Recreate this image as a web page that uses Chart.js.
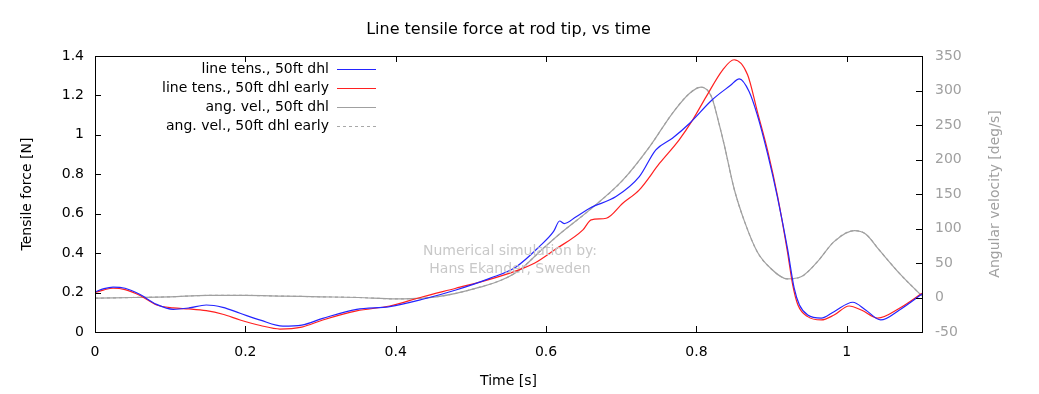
<!DOCTYPE html>
<html>
<head>
<meta charset="utf-8">
<script src="https://cdn.jsdelivr.net/npm/chart.js@4.4.0/dist/chart.umd.min.js"></script>
<style>
  html, body { margin: 0; padding: 0; background: #fff; }
  #wrap { width: 1039px; height: 394px; }
</style>
</head>
<body>
<div id="wrap"><canvas id="c" width="1039" height="394"></canvas></div>
<script>
// tick values
const xTicks = [0, 0.2, 0.4, 0.6, 0.8, 1];
const yTicks = [0, 0.2, 0.4, 0.6, 0.8, 1, 1.2, 1.4];
const y2Ticks = [-50, 0, 50, 100, 150, 200, 250, 300, 350];

// line tens., 50ft dhl  [N]
const tBlue = [0, 0.012, 0.024, 0.04, 0.06, 0.082, 0.104, 0.125, 0.148, 0.17, 0.193, 0.22, 0.25, 0.275,
  0.303, 0.348, 0.392, 0.436, 0.48, 0.525, 0.56, 0.591, 0.61, 0.618, 0.624, 0.64, 0.658, 0.693, 0.724,
  0.746, 0.768, 0.791, 0.821, 0.845, 0.857, 0.87, 0.881, 0.895, 0.908, 0.921, 0.93, 0.937,
  0.948, 0.966, 0.983, 1.008, 1.025, 1.045, 1.07, 1.1];
const fBlue = [0.203, 0.22, 0.228, 0.222, 0.19, 0.14, 0.115, 0.122, 0.137, 0.125, 0.095, 0.06, 0.03, 0.035,
  0.069, 0.115, 0.129, 0.166, 0.213, 0.272, 0.33, 0.433, 0.51, 0.563, 0.55, 0.585, 0.628, 0.687, 0.788,
  0.924, 0.983, 1.059, 1.178, 1.25, 1.284, 1.22, 1.1, 0.898, 0.679, 0.425, 0.222, 0.137,
  0.086, 0.07, 0.103, 0.151, 0.112, 0.061, 0.112, 0.193];

// line tens., 50ft dhl early  [N]
const tRed = [0, 0.012, 0.024, 0.04, 0.06, 0.082, 0.104, 0.125, 0.148, 0.17, 0.193, 0.22, 0.246, 0.275,
  0.303, 0.348, 0.392, 0.436, 0.48, 0.525, 0.56, 0.585, 0.611, 0.649, 0.66, 0.68, 0.702, 0.724, 0.751,
  0.777, 0.795, 0.813, 0.835, 0.85, 0.868, 0.881, 0.895, 0.908, 0.921, 0.928, 0.935,
  0.948, 0.966, 0.983, 1.003, 1.02, 1.041, 1.07, 1.1];
const fRed = [0.2, 0.214, 0.222, 0.215, 0.185, 0.137, 0.122, 0.117, 0.108, 0.09, 0.061, 0.033, 0.015, 0.025,
  0.061, 0.107, 0.132, 0.179, 0.222, 0.267, 0.31, 0.35, 0.416, 0.518, 0.569, 0.577, 0.653, 0.721, 0.856,
  0.975, 1.076, 1.194, 1.33, 1.381, 1.305, 1.118, 0.915, 0.687, 0.408, 0.239, 0.137,
  0.078, 0.061, 0.086, 0.132, 0.11, 0.07, 0.12, 0.196];

// ang. vel., 50ft dhl  [deg/s]
const tGray = [0, 0.05, 0.1, 0.15, 0.2, 0.25, 0.3, 0.35, 0.4, 0.436, 0.454, 0.48, 0.512, 0.54, 0.565,
  0.591, 0.618, 0.658, 0.702, 0.738, 0.768, 0.791, 0.806, 0.82, 0.83, 0.837, 0.85, 0.864, 0.881, 0.899,
  0.921, 0.939, 0.961, 0.983, 1.01, 1.025, 1.043, 1.07, 1.1];
const wGray = [-1, 0, 1, 3, 3, 2, 1, 0, -2, -1, 1, 6, 15, 25, 40,
  66, 92, 127, 170, 219, 267, 296, 305, 291, 252, 221, 158, 110, 66, 42,
  27, 30, 52, 81, 97, 92, 69, 35, 2];

// ang. vel., 50ft dhl early  [deg/s]
const tGrayEarly = [0, 0.05, 0.1, 0.15, 0.2, 0.25, 0.3, 0.35, 0.4, 0.436, 0.454, 0.48, 0.512, 0.54, 0.565,
  0.591, 0.618, 0.658, 0.702, 0.738, 0.768, 0.791, 0.806, 0.82, 0.83, 0.837, 0.85, 0.864, 0.881, 0.899,
  0.921, 0.939, 0.961, 0.983, 1.01, 1.025, 1.043, 1.07, 1.1];
const wGrayEarly = [-1, 0, 1, 3, 3, 2, 1, 0, -2, -1, 1, 6, 15, 25, 40,
  66, 92, 127, 170, 219, 267, 296, 305, 291, 252, 221, 158, 110, 66, 42,
  27, 30, 52, 81, 97, 92, 69, 35, 2];

const FONT = "'DejaVu Sans', sans-serif";
const pts = (ts, vs) => ts.map((t, i) => ({ x: t, y: vs[i] }));

const series = [
    { label: 'line tens., 50ft dhl', data: pts(tBlue, fBlue), color: '#2424ff', axis: 'y', dash: [] },
    { label: 'line tens., 50ft dhl early', data: pts(tRed, fRed), color: '#ff2020', axis: 'y', dash: [] },
    { label: 'ang. vel., 50ft dhl', data: pts(tGray, wGray), color: '#a0a0a0', axis: 'y2', dash: [] },
    { label: 'ang. vel., 50ft dhl early', data: pts(tGrayEarly, wGrayEarly), color: '#a8a8a8', axis: 'y2', dash: [3, 3] }
];

// frame, inward ticks, titles, legend and watermark (gnuplot look)
const decor = {
    id: 'decor',
    afterDraw(chart) {
        const { ctx, chartArea: a, scales } = chart;
        ctx.save();
        ctx.strokeStyle = '#000';
        ctx.lineWidth = 1;
        ctx.setLineDash([]);
        ctx.strokeRect(Math.round(a.left) + 0.5, Math.round(a.top) + 0.5,
            Math.round(a.right - a.left), Math.round(a.bottom - a.top));
        ctx.beginPath();
        xTicks.forEach(v => {
            const px = Math.round(scales.x.getPixelForValue(v)) + 0.5;
            ctx.moveTo(px, a.bottom); ctx.lineTo(px, a.bottom - 6);
            ctx.moveTo(px, a.top); ctx.lineTo(px, a.top + 6);
        });
        yTicks.forEach(v => {
            const py = Math.round(scales.y.getPixelForValue(v)) + 0.5;
            ctx.moveTo(a.left, py); ctx.lineTo(a.left + 6, py);
        });
        y2Ticks.forEach(v => {
            const py = Math.round(scales.y2.getPixelForValue(v)) + 0.5;
            ctx.moveTo(a.right, py); ctx.lineTo(a.right - 6, py);
        });
        ctx.stroke();

        // title
        ctx.fillStyle = '#000';
        ctx.font = '16px ' + FONT;
        ctx.textAlign = 'center';
        ctx.textBaseline = 'middle';
        ctx.fillText('Line tensile force at rod tip, vs time', (a.left + a.right) / 2, 30);
        ctx.font = '14px ' + FONT;
        ctx.fillText('Time [s]', (a.left + a.right) / 2, 381);

        const midY = (a.top + a.bottom) / 2;
        ctx.save();
        ctx.translate(27, midY);
        ctx.rotate(-Math.PI / 2);
        ctx.fillText('Tensile force [N]', 0, 0);
        ctx.restore();
        ctx.save();
        ctx.fillStyle = '#a0a0a0';
        ctx.translate(995, midY);
        ctx.rotate(-Math.PI / 2);
        ctx.fillText('Angular velocity [deg/s]', 0, 0);
        ctx.restore();

        // watermark
        ctx.fillStyle = '#c8c8c8';
        ctx.fillText('Numerical simulation by:', 510, 251);
        ctx.fillText('Hans Ekander, Sweden', 510, 269);

        // legend
        ctx.textAlign = 'right';
        series.forEach((s, i) => {
            const y = 69 + i * 19;
            ctx.fillStyle = '#000';
            ctx.fillText(s.label, 329, y);
            ctx.strokeStyle = s.color;
            ctx.setLineDash(s.dash);
            ctx.beginPath();
            ctx.moveTo(337, y + 0.5);
            ctx.lineTo(376, y + 0.5);
            ctx.stroke();
        });
        ctx.restore();
    }
};

const tickFont = { family: FONT, size: 14 };

new Chart(document.getElementById('c'), {
    type: 'line',
    data: {
        datasets: series.map(s => ({
            label: s.label,
            data: s.data,
            yAxisID: s.axis,
            borderColor: s.color,
            borderDash: s.dash,
            borderWidth: 1.2,
            pointRadius: 0,
            fill: false,
            cubicInterpolationMode: 'monotone'
        }))
    },
    options: {
        responsive: false,
        animation: false,
        layout: { padding: { top: 56, left: 0, right: 0, bottom: 0 } },
        plugins: { legend: { display: false }, title: { display: false }, tooltip: { enabled: false } },
        scales: {
            x: {
                type: 'linear', min: 0, max: 1.1,
                grid: { display: false, drawTicks: false },
                border: { display: false },
                afterBuildTicks: s => { s.ticks = xTicks.map(v => ({ value: v })); },
                afterFit: s => { s.height = 62; },
                ticks: { padding: 12, color: '#000', font: tickFont, maxRotation: 0, callback: v => String(v) }
            },
            y: {
                position: 'left', min: 0, max: 1.4,
                grid: { display: false, drawTicks: false },
                border: { display: false },
                afterBuildTicks: s => { s.ticks = yTicks.map(v => ({ value: v })); },
                afterFit: s => { s.width = 95; },
                ticks: { padding: 11, color: '#000', font: tickFont, callback: v => String(v) }
            },
            y2: {
                position: 'right', min: -50, max: 350,
                grid: { display: false, drawTicks: false },
                border: { display: false },
                afterBuildTicks: s => { s.ticks = y2Ticks.map(v => ({ value: v })); },
                afterFit: s => { s.width = 117; },
                ticks: { padding: 13, color: '#a0a0a0', font: tickFont, callback: v => String(v) }
            }
        }
    },
    plugins: [decor]
});
</script>
</body>
</html>
